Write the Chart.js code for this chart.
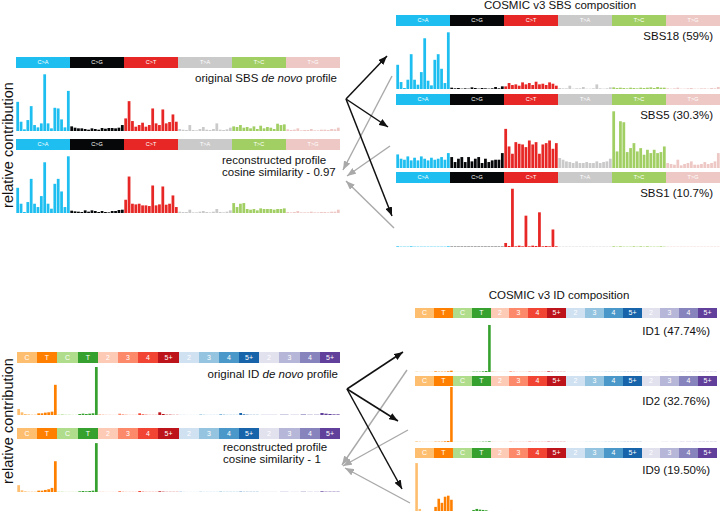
<!DOCTYPE html>
<html>
<head>
<meta charset="utf-8">
<script src="https://cdn.jsdelivr.net/npm/chart.js@4.4.1/dist/chart.umd.min.js"></script>
<style>
  body { margin: 0; width: 720px; height: 511px; overflow: hidden; background: #fff; position: relative;
         font-family: "Liberation Sans", Arial, sans-serif; color: #111; }
  .strip { position: absolute; display: flex; }
  .strip div { flex: 0 0 auto; color: #fff; text-align: center; overflow: hidden; white-space: nowrap; }
  .lbl { position: absolute; font-size: 11.5px; line-height: 12px; white-space: nowrap; }
  .ylab { position: absolute; font-size: 14.5px; white-space: nowrap; transform: translate(-50%, -50%) rotate(-90deg); }
  svg { position: absolute; left: 0; top: 0; }
</style>
</head>
<body>

<svg width="720" height="511">
  <defs>
    <marker id="hb" markerWidth="9" markerHeight="7" refX="9" refY="3.5" orient="auto" markerUnits="userSpaceOnUse">
      <path d="M0,0 L9,3.5 L0,7 z" fill="#111"/>
    </marker>
    <marker id="hg" markerWidth="9" markerHeight="7" refX="9" refY="3.5" orient="auto" markerUnits="userSpaceOnUse">
      <path d="M0,0 L9,3.5 L0,7 z" fill="#a9a9a9"/>
    </marker>
  </defs>
  <g stroke="#a9a9a9" stroke-width="1.4" marker-end="url(#hg)">
    <line x1="392" y1="76" x2="343" y2="170"/>
    <line x1="390" y1="146" x2="347" y2="176"/>
    <line x1="394" y1="228" x2="346" y2="181"/>
    <line x1="407" y1="370" x2="342" y2="465"/>
    <line x1="408" y1="430" x2="343" y2="466"/>
    <line x1="410" y1="503" x2="345" y2="468"/>
  </g>
  <g stroke="#111" stroke-width="1.5" marker-end="url(#hb)">
    <line x1="346" y1="99" x2="387" y2="56"/>
    <line x1="346" y1="99" x2="388" y2="127"/>
    <line x1="346" y1="99" x2="392" y2="216"/>
    <line x1="347" y1="389" x2="403" y2="352"/>
    <line x1="347" y1="389" x2="398" y2="421"/>
    <line x1="347" y1="389" x2="402" y2="489"/>
  </g>
</svg>

<div class="ylab" style="left:8px;top:145px">relative contribution</div>
<div class="ylab" style="left:8px;top:421px">relative contribution</div>

<div class="lbl" style="right:383px;top:72px">original SBS <i>de novo</i> profile</div>
<div class="lbl" style="left:222px;top:154px">reconstructed profile<br>cosine similarity - 0.97</div>
<div class="lbl" style="left:560px;top:-1px;transform:translateX(-50%)">COSMIC v3 SBS composition</div>
<div class="lbl" style="right:7px;top:30px">SBS18 (59%)</div>
<div class="lbl" style="right:7px;top:109px">SBS5 (30.3%)</div>
<div class="lbl" style="right:7px;top:187px">SBS1 (10.7%)</div>

<div class="lbl" style="right:382px;top:368px">original ID <i>de novo</i> profile</div>
<div class="lbl" style="left:223px;top:442px;line-height:11.5px">reconstructed profile<br>cosine similarity - 1</div>
<div class="lbl" style="left:559px;top:289px;transform:translateX(-50%)">COSMIC v3 ID composition</div>
<div class="lbl" style="right:10px;top:325px">ID1 (47.74%)</div>
<div class="lbl" style="right:10px;top:395px">ID2 (32.76%)</div>
<div class="lbl" style="right:10px;top:464px">ID9 (19.50%)</div>

<script>
// ---- SBS 96 ----
const SBS_TYPES = ['C>A', 'C>G', 'C>T', 'T>A', 'T>C', 'T>G'];
const SBS_COLORS = ['#1ebff0', '#050708', '#e62725', '#cbcacb', '#a1cf64', '#edc8c5'];
const BASES = ['A', 'C', 'G', 'T'];

// one row of 16 trinucleotide contexts per mutation type
const SBS_ORIGINAL = [
  88, 28, 5, 33, 75, 18, 11, 23, 171, 23, 8, 70, 68, 35, 11, 121,
  14, 10, 8, 8, 6, 4, 8, 6, 4, 9, 7, 9, 9, 8, 10, 18,
  38, 90, 30, 13, 18, 25, 13, 18, 68, 23, 18, 65, 23, 27, 50, 28,
  6, 4, 3, 18, 3, 2, 6, 12, 4, 3, 6, 23, 4, 3, 5, 10,
  14, 12, 18, 10, 12, 8, 14, 6, 16, 8, 12, 10, 6, 22, 18, 20,
  5, 3, 4, 8, 2, 3, 3, 6, 2, 2, 4, 4, 3, 6, 5, 10
];
const SBS_RECON = [
  76, 28, 3, 33, 103, 28, 18, 51, 153, 28, 13, 88, 103, 65, 18, 171,
  7, 5, 4, 3, 8, 4, 8, 6, 3, 6, 3, 2, 6, 6, 9, 10,
  40, 110, 28, 26, 28, 23, 23, 21, 83, 23, 26, 80, 25, 28, 53, 18,
  4, 3, 3, 10, 2, 2, 4, 6, 3, 2, 4, 12, 3, 2, 4, 8,
  30, 18, 28, 30, 12, 10, 12, 8, 14, 12, 12, 12, 10, 12, 12, 14,
  3, 2, 3, 6, 2, 2, 2, 4, 2, 2, 3, 3, 2, 4, 4, 10
];
const SBS18 = [
  73, 21, 3, 28, 105, 28, 13, 51, 153, 25, 11, 88, 105, 61, 18, 171,
  4, 2, 3, 1, 2, 1, 5, 3, 1, 3, 2, 1, 2, 6, 2, 8,
  8, 18, 12, 14, 10, 20, 14, 18, 12, 22, 14, 16, 12, 20, 16, 10,
  3, 2, 2, 10, 1, 2, 2, 6, 1, 1, 2, 14, 2, 1, 2, 5,
  5, 3, 4, 3, 2, 4, 3, 2, 4, 3, 4, 5, 3, 6, 4, 4,
  2, 1, 2, 4, 1, 1, 2, 3, 1, 1, 2, 2, 1, 3, 2, 6
];
const SBS5 = [
  41, 28, 25, 35, 23, 31, 23, 35, 28, 23, 31, 25, 28, 33, 25, 45,
  33, 18, 28, 33, 18, 33, 20, 28, 33, 15, 28, 18, 23, 25, 25, 45,
  118, 65, 43, 78, 73, 71, 63, 83, 71, 78, 43, 71, 75, 83, 58, 75,
  30, 25, 20, 18, 15, 20, 15, 15, 18, 15, 15, 20, 15, 18, 20, 28,
  171, 50, 141, 138, 48, 60, 75, 50, 60, 40, 55, 45, 55, 45, 48, 65,
  15, 12, 10, 25, 8, 12, 15, 20, 10, 10, 12, 18, 12, 15, 20, 45
];
const SBS1 = [
  2, 1, 1, 1, 2, 1, 1, 1, 1, 1, 1, 1, 1, 1, 1, 2,
  1, 1, 1, 1, 1, 1, 1, 1, 1, 1, 1, 1, 1, 1, 1, 1,
  12, 3, 173, 2, 4, 2, 93, 2, 4, 3, 103, 2, 3, 2, 52, 2,
  1, 1, 1, 1, 1, 1, 1, 1, 1, 1, 1, 1, 1, 1, 1, 1,
  2, 1, 2, 1, 1, 1, 2, 1, 2, 1, 2, 1, 1, 1, 2, 1,
  1, 1, 1, 1, 1, 1, 1, 1, 1, 1, 1, 1, 1, 1, 1, 1
];
const SBS_YMAX = 190;

// ---- ID 83 ----
const ID_FACETS = ['C', 'T', 'C', 'T', '2', '3', '4', '5+', '2', '3', '4', '5+', '2', '3', '4', '5+'];
const ID_COLORS = ['#fdbe6f', '#ff8001', '#b0dd8b', '#36a12e', '#fdcab5', '#fc8a6a', '#f14432', '#bc141a',
                   '#d0e1f2', '#94c4df', '#4a98c9', '#1764ab', '#e2e2ef', '#b6b6d8', '#8683bd', '#61409b'];
const ID_SUBLABELS = [
  ['1', '2', '3', '4', '5', '6+'], ['1', '2', '3', '4', '5', '6+'],
  ['0', '1', '2', '3', '4', '5+'], ['0', '1', '2', '3', '4', '5+'],
  ['1', '2', '3', '4', '5', '6+'], ['1', '2', '3', '4', '5', '6+'],
  ['1', '2', '3', '4', '5', '6+'], ['1', '2', '3', '4', '5', '6+'],
  ['0', '1', '2', '3', '4', '5+'], ['0', '1', '2', '3', '4', '5+'],
  ['0', '1', '2', '3', '4', '5+'], ['0', '1', '2', '3', '4', '5+'],
  ['1'], ['1', '2'], ['1', '2', '3'], ['1', '2', '3', '4', '5+']
];

const ID_ORIGINAL = [
  18, 8, 3, 2, 1, 1,
  5, 5, 7, 8, 10, 90,
  1, 2, 1, 1, 0.5, 0.5,
  3, 4, 3, 4, 5, 143,
  3, 2, 1, 1, 0.5, 0.5,
  4, 2, 1, 0.5, 0.5, 0.5,
  5, 2, 1, 0.5, 0.5, 0.5,
  8, 3, 1, 1, 0.5, 0.5,
  1, 1, 0.5, 0.5, 0.5, 0.5,
  2, 1, 0.5, 0.5, 0.5, 0.5,
  2, 1, 0.5, 0.5, 0.5, 0.5,
  6, 2, 1, 0.5, 0.5, 0.5,
  2,
  2, 1,
  2, 1, 1,
  6, 4, 3, 2, 2
];
const ID_RECON = [
  20, 5, 2, 1, 1, 1,
  4, 4, 6, 8, 12, 90,
  1, 1, 0.5, 0.5, 0.5, 0.5,
  2, 3, 2, 3, 4, 143,
  1, 1, 0.5, 0.5, 0.5, 0.5,
  3, 1, 0.5, 0.5, 0.5, 0.5,
  3, 1, 0.5, 0.5, 0.5, 0.5,
  2, 1, 0.5, 0.5, 0.5, 0.5,
  3, 1, 0.5, 0.5, 0.5, 0.5,
  1, 0.5, 0.5, 0.5, 0.5, 0.5,
  1, 0.5, 0.5, 0.5, 0.5, 0.5,
  1, 0.5, 0.5, 0.5, 0.5, 0.5,
  1,
  1, 0.5,
  1, 0.5, 0.5,
  2, 1, 1, 1, 1
];
const ID1 = [
  1, 0.5, 0.5, 0.5, 0.5, 0.5,
  2, 1, 1, 1, 2, 4,
  0.5, 0.5, 0.5, 0.5, 0.5, 0.5,
  1, 1, 1, 2, 3, 142,
  2, 1, 0.5, 0.5, 0.5, 0.5,
  2, 1, 0.5, 0.5, 0.5, 0.5,
  1, 0.5, 0.5, 0.5, 0.5, 0.5,
  2, 1, 0.5, 0.5, 0.5, 0.5,
  0.5, 0.5, 0.5, 0.5, 0.5, 0.5,
  0.5, 0.5, 0.5, 0.5, 0.5, 0.5,
  0.5, 0.5, 0.5, 0.5, 0.5, 0.5,
  0.5, 0.5, 0.5, 0.5, 0.5, 0.5,
  0.5,
  0.5, 0.5,
  0.5, 0.5, 0.5,
  0.5, 0.5, 0.5, 0.5, 0.5
];
const ID2 = [
  2, 1, 0.5, 0.5, 0.5, 0.5,
  1, 1, 1, 2, 3, 168,
  0.5, 0.5, 0.5, 0.5, 0.5, 0.5,
  0.5, 0.5, 0.5, 1, 1, 2,
  1, 0.5, 0.5, 0.5, 0.5, 0.5,
  1, 0.5, 0.5, 0.5, 0.5, 0.5,
  1, 0.5, 0.5, 0.5, 0.5, 0.5,
  1, 0.5, 0.5, 0.5, 0.5, 0.5,
  0.5, 0.5, 0.5, 0.5, 0.5, 0.5,
  0.5, 0.5, 0.5, 0.5, 0.5, 0.5,
  0.5, 0.5, 0.5, 0.5, 0.5, 0.5,
  0.5, 0.5, 0.5, 0.5, 0.5, 0.5,
  0.5,
  0.5, 0.5,
  0.5, 0.5, 0.5,
  0.5, 0.5, 0.5, 0.5, 0.5
];
const ID9 = [
  147, 12, 6, 4, 3, 3,
  18, 42, 30, 48, 51, 39,
  3, 2, 1, 1, 1, 1,
  9, 12, 10, 9, 8, 6,
  4, 3, 2, 1, 1, 1,
  6, 2, 1, 1, 0.5, 0.5,
  4, 2, 1, 0.5, 0.5, 0.5,
  4, 2, 1, 0.5, 0.5, 0.5,
  3, 2, 1, 0.5, 0.5, 0.5,
  3, 1, 0.5, 0.5, 0.5, 0.5,
  2, 1, 0.5, 0.5, 0.5, 0.5,
  3, 1, 0.5, 0.5, 0.5, 0.5,
  3,
  3, 2,
  2, 1, 1,
  3, 2, 1, 1, 1
];

const SBS_LABELS = [];
const SBS_BAR_COLORS = [];
SBS_TYPES.forEach((t, i) => {
  BASES.forEach(b5 => BASES.forEach(b3 => {
    SBS_LABELS.push(`${b5}[${t}]${b3}`);
    SBS_BAR_COLORS.push(SBS_COLORS[i]);
  }));
});

function strip(x, y, w, h, names, colors, fs) {
  const s = document.createElement('div');
  s.className = 'strip';
  s.style.cssText = `left:${x}px;top:${y}px;width:${w}px;height:${h}px`;
  names.forEach((n, i) => {
    const x0 = Math.round(i * w / names.length);
    const x1 = Math.round((i + 1) * w / names.length);
    const d = document.createElement('div');
    d.style.cssText = `width:${x1 - x0}px;background:${colors[i]};font-size:${fs}px;line-height:${h}px`;
    d.textContent = n;
    s.appendChild(d);
  });
  document.body.appendChild(s);
}

function barChart(x, y, w, h, labels, values, colors, ymax) {
  const c = document.createElement('canvas');
  c.width = w;
  c.height = h;
  c.style.cssText = `position:absolute;left:${x}px;top:${y}px;width:${w}px;height:${h}px`;
  document.body.appendChild(c);
  return new Chart(c, {
    type: 'bar',
    data: {
      labels: labels,
      datasets: [{ data: values, backgroundColor: colors, barPercentage: 0.82, categoryPercentage: 1 }]
    },
    options: {
      responsive: false,
      animation: false,
      devicePixelRatio: 1,
      events: [],
      layout: { padding: 0 },
      plugins: { legend: { display: false }, tooltip: { enabled: false } },
      scales: {
        x: { display: false },
        y: { display: false, min: 0, max: ymax }
      }
    }
  });
}

function sbsProfile(x, y, w, stripH, plotH, values) {
  strip(x, y, w, stripH, SBS_TYPES, SBS_COLORS, 5.5);
  barChart(x, y + stripH, w, plotH, SBS_LABELS, values, SBS_BAR_COLORS, SBS_YMAX);
}

function idProfile(x, y, w, stripH, plotH, values, ymax) {
  strip(x, y, w, stripH, ID_FACETS, ID_COLORS, 7);
  let off = 0;
  ID_FACETS.forEach((f, i) => {
    const x0 = Math.round(x + i * w / 16);
    const x1 = Math.round(x + (i + 1) * w / 16);
    const n = ID_SUBLABELS[i].length;
    barChart(x0, y + stripH, x1 - x0, plotH, ID_SUBLABELS[i], values.slice(off, off + n), ID_COLORS[i], ymax);
    off += n;
  });
}

// left: de novo SBS
sbsProfile(16, 57, 324, 11, 63, SBS_ORIGINAL);
sbsProfile(16, 139, 324, 11, 63, SBS_RECON);
// right: COSMIC SBS
sbsProfile(396, 15, 324, 11, 63, SBS18);
sbsProfile(396, 94, 324, 11, 63, SBS5);
sbsProfile(396, 172, 324, 11, 64, SBS1);

// left: de novo ID
idProfile(17, 352, 323, 11, 52, ID_ORIGINAL, 155);
idProfile(17, 428, 323, 11, 53, ID_RECON, 155);
// right: COSMIC ID
idProfile(415, 308, 302, 10, 54, ID1, 163);
idProfile(415, 376, 302, 10, 56, ID2, 171);
idProfile(415, 448, 302, 10, 55, ID9, 162);
</script>
</body>
</html>
